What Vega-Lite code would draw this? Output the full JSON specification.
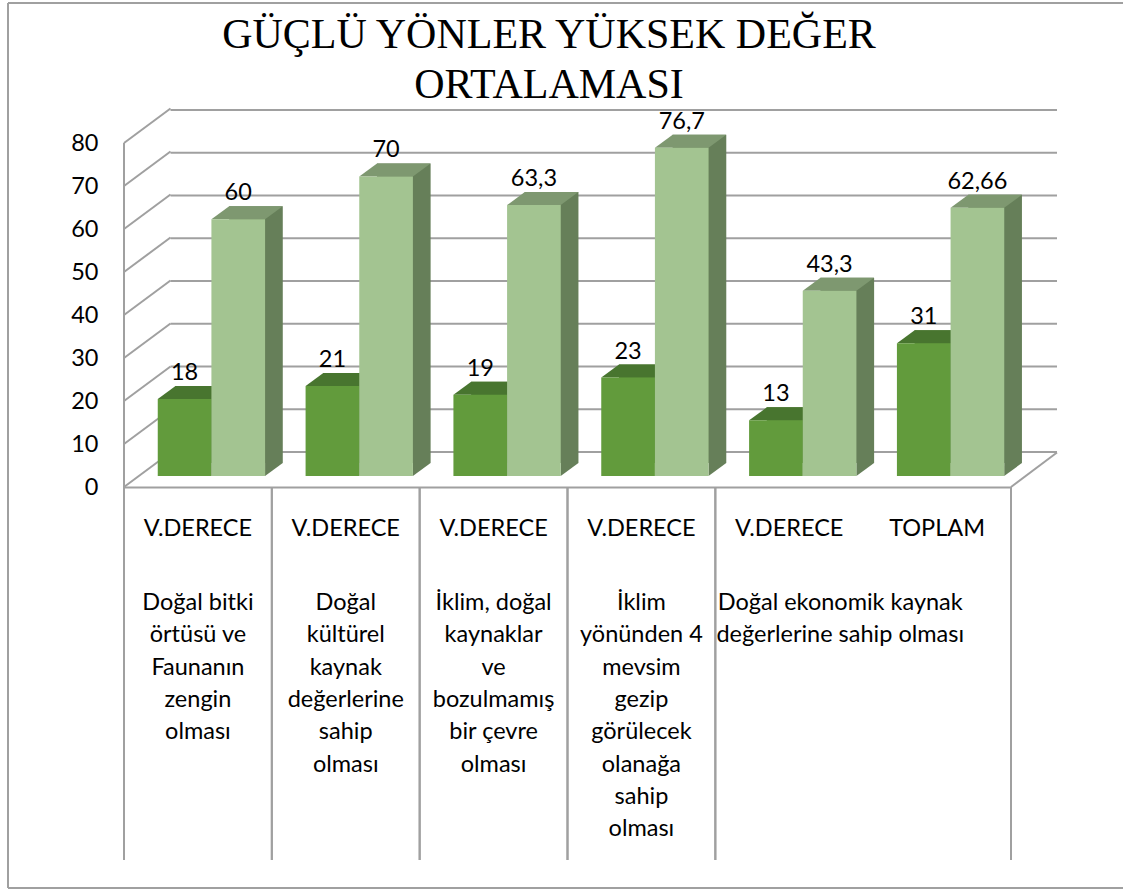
{
  "$schema": "https://vega.github.io/schema/vega-lite/v6.json",
  "width": 933,
  "height": 377,
  "autosize": {"type": "none"},
  "padding": {"left": 124, "top": 110, "right": 66, "bottom": 402},
  "background": "white",
  "config": {
    "view": {"stroke": null},
    "font": "Lato",
    "locale": {"number": {"decimal": ",", "thousands": ".", "grouping": [3], "currency": ["", ""]}}
  },
  "datasets": {
    "cubuklar": [
      {"kat": "1|V.DERECE", "seri": "Seri 1", "deger": 18},
      {"kat": "1|V.DERECE", "seri": "Seri 2", "deger": 60},
      {"kat": "2|V.DERECE", "seri": "Seri 1", "deger": 21},
      {"kat": "2|V.DERECE", "seri": "Seri 2", "deger": 70},
      {"kat": "3|V.DERECE", "seri": "Seri 1", "deger": 19},
      {"kat": "3|V.DERECE", "seri": "Seri 2", "deger": 63.3},
      {"kat": "4|V.DERECE", "seri": "Seri 1", "deger": 23},
      {"kat": "4|V.DERECE", "seri": "Seri 2", "deger": 76.7},
      {"kat": "5|V.DERECE", "seri": "Seri 1", "deger": 13},
      {"kat": "5|V.DERECE", "seri": "Seri 2", "deger": 43.3},
      {"kat": "6|TOPLAM", "seri": "Seri 1", "deger": 31},
      {"kat": "6|TOPLAM", "seri": "Seri 2", "deger": 62.66}
    ],
    "gruplar": [
      {"ilk": "1|V.DERECE", "son": "1|V.DERECE", "ad": "Doğal bitki\nörtüsü ve\nFaunanın\nzengin\nolması"},
      {"ilk": "2|V.DERECE", "son": "2|V.DERECE", "ad": "Doğal\nkültürel\nkaynak\ndeğerlerine\nsahip\nolması"},
      {"ilk": "3|V.DERECE", "son": "3|V.DERECE", "ad": "İklim, doğal\nkaynaklar\nve\nbozulmamış\nbir çevre\nolması"},
      {"ilk": "4|V.DERECE", "son": "4|V.DERECE", "ad": "İklim\nyönünden 4\nmevsim\ngezip\ngörülecek\nolanağa\nsahip\nolması"},
      {"ilk": "5|V.DERECE", "son": "6|TOPLAM", "ad": "Doğal ekonomik kaynak\ndeğerlerine sahip olması"}
    ],
    "tikler": [
      {"v": 0}, {"v": 10}, {"v": 20}, {"v": 30}, {"v": 40},
      {"v": 50}, {"v": 60}, {"v": 70}, {"v": 80}
    ]
  },
  "layer": [
    {
      "data": {"values": [{"kenar": "ust"}]},
      "mark": {"type": "rule", "color": "#a0a0a0", "strokeWidth": 2},
      "encoding": {"x": {"value": -116}, "x2": {"value": 1000}, "y": {"value": -107}, "y2": {"value": -107}}
    },
    {
      "data": {"values": [{"kenar": "alt"}]},
      "mark": {"type": "rule", "color": "#a0a0a0", "strokeWidth": 2},
      "encoding": {"x": {"value": -116}, "x2": {"value": 1000}, "y": {"value": 778}, "y2": {"value": 778}}
    },
    {
      "data": {"values": [{"kenar": "sol"}]},
      "mark": {"type": "rule", "color": "#a0a0a0", "strokeWidth": 2},
      "encoding": {"x": {"value": -116}, "x2": {"value": -116}, "y": {"value": -107}, "y2": {"value": 778}}
    },
    {
      "data": {"values": [{"baslik": "GÜÇLÜ YÖNLER YÜKSEK DEĞER\nORTALAMASI"}]},
      "mark": {"type": "text", "font": "Liberation Serif", "fontSize": 42, "lineBreak": "\n", "lineHeight": 50, "align": "center", "baseline": "alphabetic", "color": "black"},
      "encoding": {"text": {"field": "baslik"}, "x": {"value": 425}, "y": {"value": -62}}
    },
    {
      "data": {"name": "tikler"},
      "mark": {"type": "rule", "color": "#a0a0a0", "strokeWidth": 2},
      "encoding": {
        "x": {"value": 46.5},
        "x2": {"value": 933},
        "y": {"field": "v", "type": "quantitative", "scale": {"domain": [0, 80], "range": [342, 0], "nice": false}, "axis": null}
      }
    },
    {
      "data": {"name": "tikler"},
      "mark": {"type": "rule", "color": "#a0a0a0", "strokeWidth": 2, "y2Offset": -34.5},
      "encoding": {
        "x": {"value": 0},
        "x2": {"value": 46.5},
        "y": {
          "field": "v", "type": "quantitative",
          "scale": {"domain": [0, 80], "range": [377, 33], "nice": false},
          "axis": {"values": [0, 10, 20, 30, 40, 50, 60, 70, 80], "title": null, "domain": false, "ticks": false, "tickSize": 0, "grid": false, "labelPadding": 26, "labelFont": "Lato", "labelFontSize": 23.5, "labelColor": "black", "labelBaseline": "middle"}
        },
        "y2": {"field": "v"}
      }
    },
    {
      "data": {"name": "tikler"},
      "transform": [{"filter": "datum.v == 0"}],
      "mark": {"type": "rule", "color": "#a0a0a0", "strokeWidth": 2, "y2Offset": -34.5},
      "encoding": {
        "x": {"value": 887},
        "x2": {"value": 933},
        "y": {"field": "v", "type": "quantitative", "scale": {"domain": [0, 80], "range": [377, 33], "nice": false}, "axis": null},
        "y2": {"field": "v"}
      }
    },
    {
      "data": {"name": "tikler"},
      "transform": [{"filter": "datum.v == 80"}],
      "mark": {"type": "rule", "color": "#a0a0a0", "strokeWidth": 2},
      "encoding": {
        "x": {"value": 0},
        "y": {"field": "v", "type": "quantitative", "scale": {"domain": [0, 80], "range": [377, 33], "nice": false}, "axis": null},
        "y2": {"datum": 0}
      }
    },
    {
      "data": {"name": "gruplar"},
      "mark": {"type": "rule", "color": "#a0a0a0", "strokeWidth": 2},
      "encoding": {
        "x": {
          "field": "ilk", "type": "nominal", "bandPosition": 0,
          "scale": {"domain": ["1|V.DERECE", "2|V.DERECE", "3|V.DERECE", "4|V.DERECE", "5|V.DERECE", "6|TOPLAM"], "range": [0, 887], "paddingInner": 0, "paddingOuter": 0},
          "axis": {"title": null, "labelExpr": "split(datum.value, '|')[1]", "labelAngle": 0, "labelFont": "Lato", "labelFontSize": 23.5, "labelColor": "black", "labelBaseline": "middle", "labelPadding": 41, "ticks": false, "tickSize": 0, "domain": true, "domainColor": "#a0a0a0", "domainWidth": 2, "grid": false, "labelLimit": 0}
        },
        "y": {"value": 377},
        "y2": {"value": 750}
      }
    },
    {
      "data": {"name": "gruplar"},
      "mark": {"type": "rule", "color": "#a0a0a0", "strokeWidth": 2},
      "encoding": {
        "x": {
          "field": "son", "type": "nominal", "bandPosition": 1,
          "scale": {"domain": ["1|V.DERECE", "2|V.DERECE", "3|V.DERECE", "4|V.DERECE", "5|V.DERECE", "6|TOPLAM"], "range": [0, 887], "paddingInner": 0, "paddingOuter": 0},
          "axis": null
        },
        "y": {"value": 377},
        "y2": {"value": 750}
      }
    },
    {
      "data": {"name": "gruplar"},
      "transform": [{"filter": "datum.ilk != '5|V.DERECE'"}],
      "mark": {"type": "text", "lineBreak": "\n", "lineHeight": 32.3, "fontSize": 23.5, "font": "Lato", "align": "center", "baseline": "top", "color": "black"},
      "encoding": {
        "text": {"field": "ad"},
        "x": {
          "field": "ilk", "type": "nominal",
          "scale": {"domain": ["1|V.DERECE", "2|V.DERECE", "3|V.DERECE", "4|V.DERECE", "5|V.DERECE", "6|TOPLAM"], "range": [0, 887], "paddingInner": 0, "paddingOuter": 0},
          "axis": null
        },
        "y": {"value": 481}
      }
    },
    {
      "data": {"name": "gruplar"},
      "transform": [{"filter": "datum.ilk == '5|V.DERECE'"}],
      "mark": {"type": "text", "lineBreak": "\n", "lineHeight": 32.3, "fontSize": 23.5, "font": "Lato", "align": "center", "baseline": "top", "color": "black", "dx": 51},
      "encoding": {
        "text": {"field": "ad"},
        "x": {
          "field": "ilk", "type": "nominal",
          "scale": {"domain": ["1|V.DERECE", "2|V.DERECE", "3|V.DERECE", "4|V.DERECE", "5|V.DERECE", "6|TOPLAM"], "range": [0, 887], "paddingInner": 0, "paddingOuter": 0},
          "axis": null
        },
        "y": {"value": 481}
      }
    },
    {
      "data": {"name": "cubuklar"},
      "mark": {"type": "bar", "opacity": 1},
      "encoding": {
        "x": {
          "field": "kat", "type": "nominal",
          "scale": {"domain": ["1|V.DERECE", "2|V.DERECE", "3|V.DERECE", "4|V.DERECE", "5|V.DERECE", "6|TOPLAM"], "range": [31.2, 918.2], "paddingInner": 0.274, "paddingOuter": 0.137},
          "axis": null
        },
        "xOffset": {"field": "seri", "type": "nominal", "scale": {"domain": ["Seri 1", "Seri 2"], "paddingInner": 0, "paddingOuter": 0}},
        "y": {"field": "deger", "type": "quantitative", "scale": {"domain": [0, 80], "range": [353, 10.6], "nice": false}, "axis": null},
        "color": {"condition": {"test": "datum.seri == 'Seri 1'", "value": "#4e7d33"}, "value": "#667f59"}
      }
    },
    {
      "data": {"name": "cubuklar"},
      "mark": {"type": "point", "shape": "M -2.68 0 L 2.68 0 L 4.45 -1.3 L -0.91 -1.3 Z", "size": 400, "filled": true, "opacity": 1, "strokeWidth": 0},
      "encoding": {
        "x": {
          "field": "kat", "type": "nominal",
          "scale": {"domain": ["1|V.DERECE", "2|V.DERECE", "3|V.DERECE", "4|V.DERECE", "5|V.DERECE", "6|TOPLAM"], "range": [13.5, 900.5], "paddingInner": 0.274, "paddingOuter": 0.137},
          "axis": null
        },
        "xOffset": {"field": "seri", "type": "nominal", "scale": {"type": "point", "domain": ["Seri 1", "Seri 2"], "padding": 0.5}},
        "y": {"field": "deger", "type": "quantitative", "scale": {"domain": [0, 80], "range": [366, 23.6], "nice": false}, "axis": null},
        "color": {"condition": {"test": "datum.seri == 'Seri 1'", "value": "#48752f"}, "value": "#7e9870"}
      }
    },
    {
      "data": {"name": "cubuklar"},
      "mark": {"type": "point", "shape": "M 2.68 0 L 2.68 -1.3 L 4.45 -1.3 Z", "size": 400, "filled": true, "opacity": 1, "strokeWidth": 0},
      "encoding": {
        "x": {
          "field": "kat", "type": "nominal",
          "scale": {"domain": ["1|V.DERECE", "2|V.DERECE", "3|V.DERECE", "4|V.DERECE", "5|V.DERECE", "6|TOPLAM"], "range": [13.5, 900.5], "paddingInner": 0.274, "paddingOuter": 0.137},
          "axis": null
        },
        "xOffset": {"field": "seri", "type": "nominal", "scale": {"type": "point", "domain": ["Seri 1", "Seri 2"], "padding": 0.5}},
        "y": {"datum": 0, "type": "quantitative", "scale": {"domain": [0, 80], "range": [366, 23.6], "nice": false}, "axis": null},
        "color": {"value": "#667f59"}
      }
    },
    {
      "data": {"name": "cubuklar"},
      "mark": {"type": "bar", "opacity": 1},
      "encoding": {
        "x": {
          "field": "kat", "type": "nominal",
          "scale": {"domain": ["1|V.DERECE", "2|V.DERECE", "3|V.DERECE", "4|V.DERECE", "5|V.DERECE", "6|TOPLAM"], "range": [13.5, 900.5], "paddingInner": 0.274, "paddingOuter": 0.137},
          "axis": null
        },
        "xOffset": {"field": "seri", "type": "nominal", "scale": {"domain": ["Seri 1", "Seri 2"], "paddingInner": 0, "paddingOuter": 0}},
        "y": {"field": "deger", "type": "quantitative", "scale": {"domain": [0, 80], "range": [366, 23.6], "nice": false}, "axis": null},
        "color": {"condition": {"test": "datum.seri == 'Seri 1'", "value": "#629b3c"}, "value": "#a3c491"}
      }
    },
    {
      "data": {"name": "cubuklar"},
      "mark": {"type": "text", "font": "Lato", "fontSize": 23.5, "align": "center", "baseline": "alphabetic", "dy": -19, "color": "black"},
      "encoding": {
        "text": {"field": "deger", "type": "quantitative", "format": ".4~r"},
        "x": {
          "field": "kat", "type": "nominal",
          "scale": {"domain": ["1|V.DERECE", "2|V.DERECE", "3|V.DERECE", "4|V.DERECE", "5|V.DERECE", "6|TOPLAM"], "range": [13.5, 900.5], "paddingInner": 0.274, "paddingOuter": 0.137},
          "axis": null
        },
        "xOffset": {"field": "seri", "type": "nominal", "scale": {"type": "point", "domain": ["Seri 1", "Seri 2"], "padding": 0.5}},
        "y": {"field": "deger", "type": "quantitative", "scale": {"domain": [0, 80], "range": [366, 23.6], "nice": false}, "axis": null}
      }
    }
  ],
  "resolve": {
    "scale": {"x": "independent", "y": "independent", "xOffset": "independent"},
    "axis": {"x": "independent", "y": "independent"}
  }
}
